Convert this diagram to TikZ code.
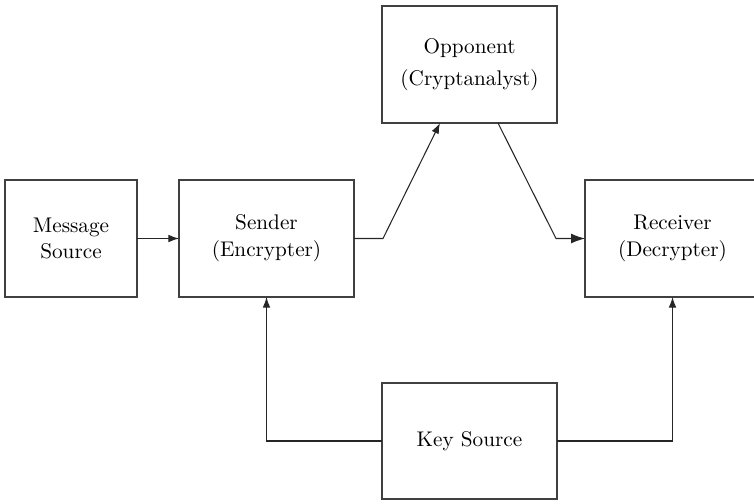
\documentclass[tikz,border=0pt]{standalone}
\usetikzlibrary{arrows.meta}
\begin{document}
\begin{tikzpicture}[x=0.4713pt,y=-0.4713pt,
  box/.style={draw=black!75,line width=0.55pt,inner sep=0pt,outer sep=0pt,align=center,
    minimum width=175*0.4713pt,minimum height=117*0.4713pt,font=\fontsize{10}{12.7}\selectfont},
  conn/.style={draw=black!85,line width=0.5pt,-{Latex[length=5pt,width=3.6pt]}},
  connbig/.style={draw=black!85,line width=0.5pt,-{Latex[length=6.5pt,width=4.6pt]}}]
\useasboundingbox (0,0) rectangle (754,503);
\clip (0,0) rectangle (754,503);
\node[box,minimum width=132*0.4713pt,minimum height=117*0.4713pt] (msg) at (71,238.5) {Message\\Source};
\node[box] (snd) at (266.5,238.5) {Sender\\(Encrypter)};
\node[box] (opp) at (469.5,64.5) {Opponent\\[2.5pt](Cryptanalyst)};
\node[box] (rcv) at (672.5,238.5) {Receiver\\(Decrypter)};
\node[box,minimum height=116*0.4713pt] (key) at (469.5,441) {Key Source};
\coordinate (b1) at (383,238.5);
\coordinate (b2) at (556,238.5);
\coordinate (o1) at ([xshift=-29.5*0.4713pt]opp.south);
\coordinate (o2) at ([xshift=28.5*0.4713pt]opp.south);
\draw[conn] (msg.east) -- (snd.west);
\draw[conn] (snd.east) -- (b1) -- (o1);
\draw[connbig] (o2) -- (b2) -- (rcv.west);
\draw[conn] (key.west) -| (snd.south);
\draw[conn] (key.east) -| (rcv.south);
\end{tikzpicture}
\end{document}
